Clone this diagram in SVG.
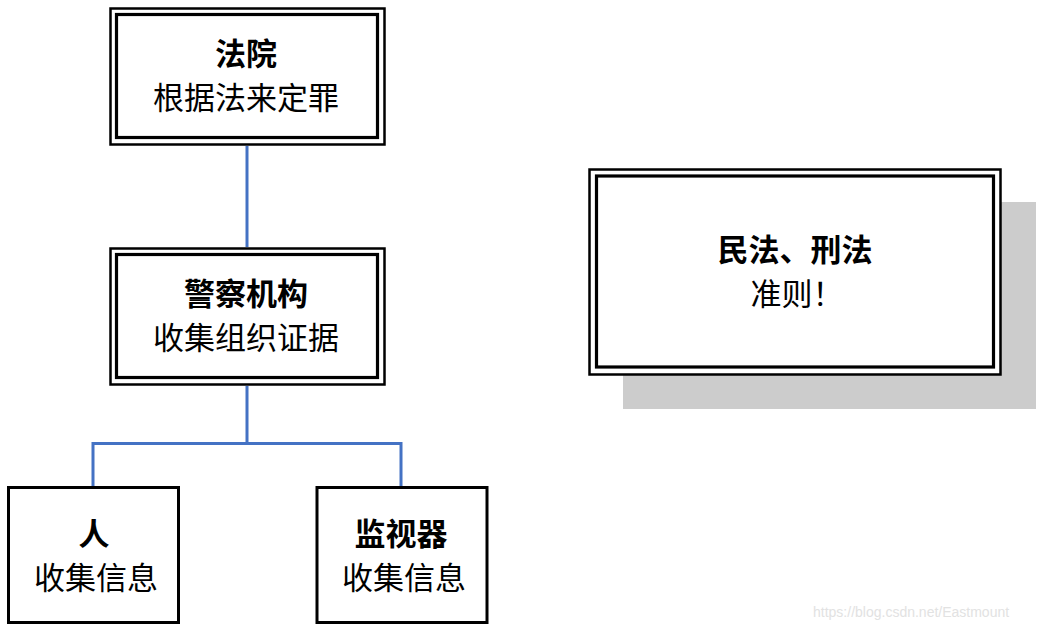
<svg xmlns="http://www.w3.org/2000/svg" width="1044" height="632" viewBox="0 0 1044 632">
<style>
.outer{fill:#fff;stroke:#000;stroke-width:2.5}
.inner{fill:none;stroke:#000;stroke-width:3.2}
.single{fill:#fff;stroke:#000;stroke-width:3}
.t{font-family:"Noto Sans CJK SC","Noto Sans",sans-serif;font-size:31px;fill:#000;text-anchor:middle}
.b{font-weight:bold}
.conn{fill:none;stroke:#4472C4;stroke-width:3}
.wm{font-family:"Liberation Sans",Arial,sans-serif;font-size:14px;fill:#e2e2e2}
</style>
<rect width="1044" height="632" fill="#fff"/>
<g id="connectors">
<line class="conn" x1="247" y1="146" x2="247" y2="247"/>
<path class="conn" d="M247 386 V443.5 M93 487 V443.5 H401 V487"/>
</g>
<g id="court">
<rect class="outer" x="110.5" y="8.5" width="274" height="136"/>
<rect class="inner" x="116.5" y="14.5" width="261" height="123"/>
<text class="t b" x="246" y="65">法院</text>
<text class="t" x="246" y="109">根据法来定罪</text>
</g>
<g id="police">
<rect class="outer" x="110.5" y="248.5" width="274" height="136"/>
<rect class="inner" x="116.5" y="254.5" width="261" height="123"/>
<text class="t b" x="246" y="305">警察机构</text>
<text class="t" x="246" y="349">收集组织证据</text>
</g>
<g id="person">
<rect class="single" x="8.5" y="487.5" width="170" height="135"/>
<text class="t b" x="94" y="545">人</text>
<text class="t" x="96" y="589">收集信息</text>
</g>
<g id="monitor">
<rect class="single" x="317" y="487.5" width="170" height="135"/>
<text class="t b" x="401" y="545">监视器</text>
<text class="t" x="404" y="589">收集信息</text>
</g>
<g id="law">
<rect x="623" y="202" width="413" height="207" fill="#cccccc"/>
<rect class="outer" x="589.5" y="169.5" width="411" height="205"/>
<rect class="inner" x="596.5" y="176" width="397" height="191"/>
<text class="t b" x="795" y="261">民法、刑法</text>
<text class="t" x="797" y="305">准则！</text>
</g>
<text class="wm" x="813" y="617">https://blog.csdn.net/Eastmount</text>
</svg>
